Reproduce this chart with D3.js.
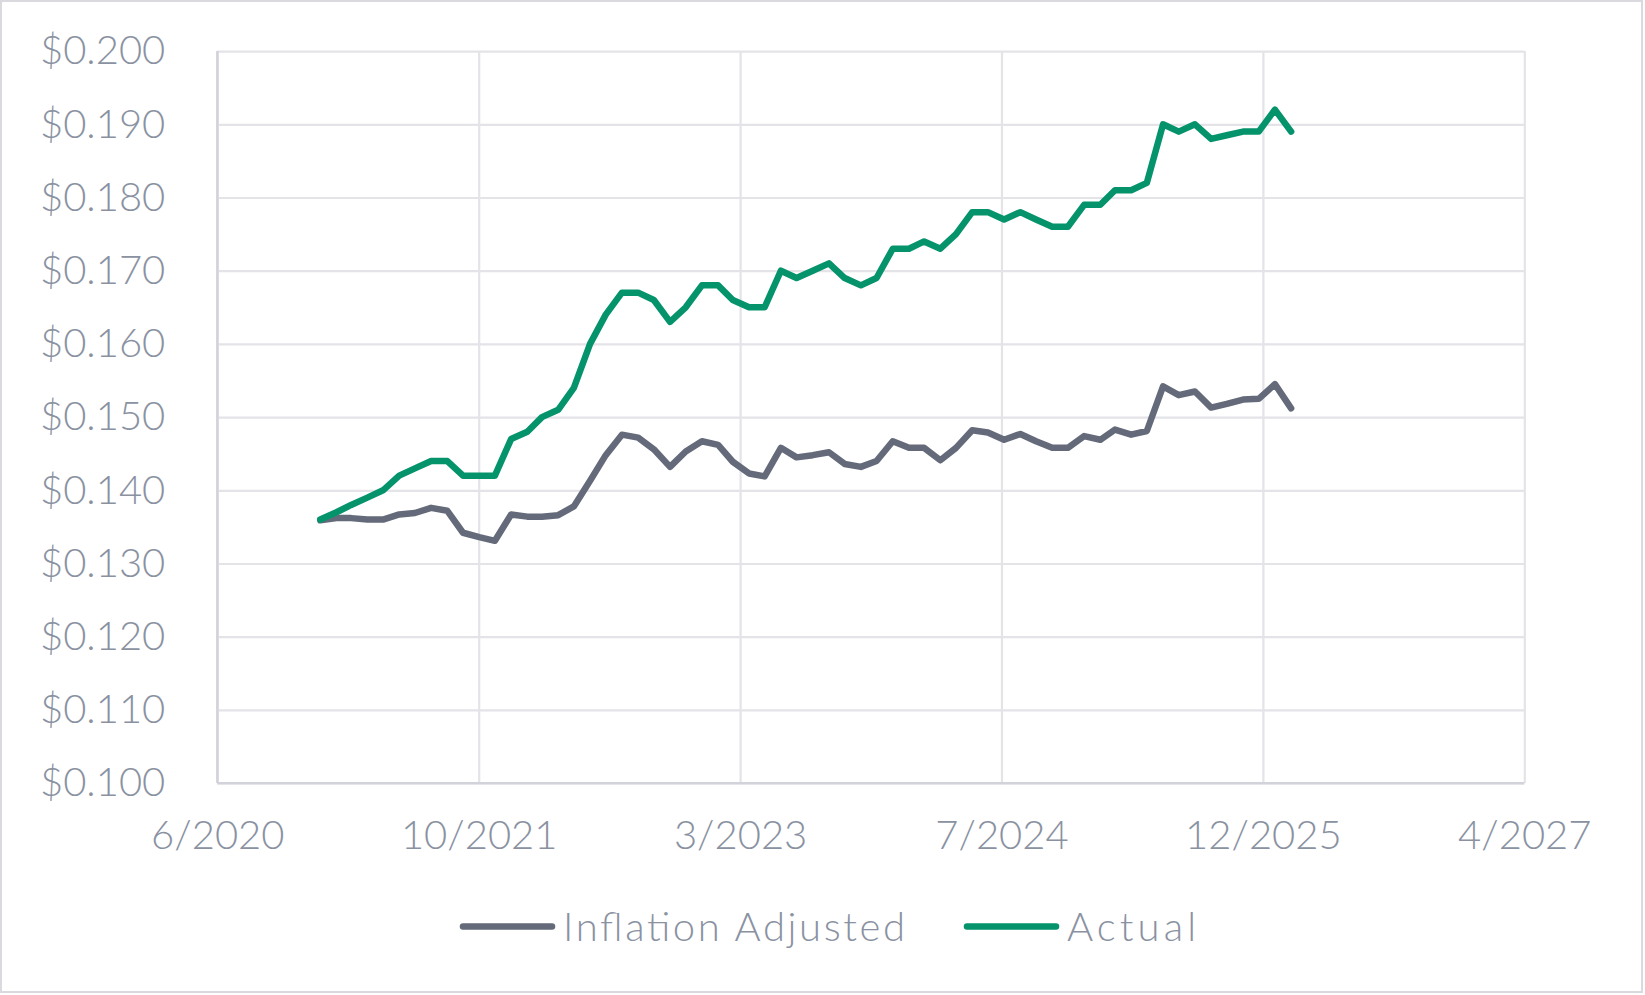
<!DOCTYPE html>
<html>
<head>
<meta charset="utf-8">
<script src="https://cdn.jsdelivr.net/npm/d3@7"></script>
<style>
  html, body { margin: 0; padding: 0; background: #ffffff; }
  svg { display: block; }
  text { font-family: Lato, "Open Sans", sans-serif; fill: #8a92a2; }
</style>
</head>
<body>
<script>
// ---------------- data ----------------
const months = [
  "2021-01","2021-02","2021-03","2021-04","2021-05","2021-06","2021-07","2021-08","2021-09","2021-10","2021-11","2021-12",
  "2022-01","2022-02","2022-03","2022-04","2022-05","2022-06","2022-07","2022-08","2022-09","2022-10","2022-11","2022-12",
  "2023-01","2023-02","2023-03","2023-04","2023-05","2023-06","2023-07","2023-08","2023-09","2023-10","2023-11","2023-12",
  "2024-01","2024-02","2024-03","2024-04","2024-05","2024-06","2024-07","2024-08","2024-09","2024-10","2024-11","2024-12",
  "2025-01","2025-02","2025-03","2025-04","2025-05","2025-06","2025-07","2025-08","2025-09","2025-10","2025-11","2025-12",
  "2026-01","2026-02"
];

const inflationAdjusted = [
  0.1359,0.1362,0.1362,0.1360,0.1360,0.1367,0.1369,0.1376,0.1372,0.1342,
  0.1336,0.1331,0.1367,0.1364,0.1364,0.1366,0.1378,0.1413,0.1448,0.1476,
  0.1472,0.1456,0.1432,0.1453,0.1467,0.1462,0.1439,0.1423,0.1419,0.1458,
  0.1445,0.1448,0.1452,0.1436,0.1432,0.1440,0.1467,0.1458,0.1458,0.1441,
  0.1458,0.1482,0.1479,0.1469,0.1477,0.1467,0.1458,0.1458,0.1474,0.1469,
  0.1483,0.1476,0.1481,0.1542,0.1530,0.1535,0.1513,0.1518,0.1524,0.1525,
  0.1545,0.1512
];

const actual = [
  0.136,0.137,0.138,0.139,0.140,0.142,0.143,0.144,0.144,0.142,
  0.142,0.142,0.147,0.148,0.150,0.151,0.154,0.160,0.164,0.167,
  0.167,0.166,0.163,0.165,0.168,0.168,0.166,0.165,0.165,0.170,
  0.169,0.170,0.171,0.169,0.168,0.169,0.173,0.173,0.174,0.173,
  0.175,0.178,0.178,0.177,0.178,0.177,0.176,0.176,0.179,0.179,
  0.181,0.181,0.182,0.190,0.189,0.190,0.188,0.1885,0.189,0.189,
  0.192,0.189
];

const seriesNames = ["Inflation Adjusted", "Actual"];
const xTickDates  = ["2020-06-18","2021-10-31","2023-03-15","2024-07-27","2025-12-09","2027-04-23"];
const xTickLabels = ["6/2020","10/2021","3/2023","7/2024","12/2025","4/2027"];
const yTicks      = [0.100,0.110,0.120,0.130,0.140,0.150,0.160,0.170,0.180,0.190,0.200];

// ---------------- layout ----------------
const W = 1645, H = 995;
const plot = { left: 217.3, right: 1524.3, top: 51.1, bottom: 783.1 };
const colors = { gray: "#646a7a", green: "#05936b", grid: "#e3e3e8", axis: "#d2d3da", frame: "#d9d9de", text: "#8a92a2" };
const FONT = "Lato, 'Open Sans', sans-serif";

const parse = d3.timeParse("%Y-%m-%d");
const parseM = d3.timeParse("%Y-%m");
const tickDates = xTickDates.map(parse);
const monthDates = months.map(parseM);

const x = d3.scaleTime()
  .domain([tickDates[0], tickDates[tickDates.length - 1]])
  .range([plot.left, plot.right]);
const y = d3.scaleLinear()
  .domain([0.100, 0.200])
  .range([plot.bottom, plot.top]);

const svg = d3.select("body").append("svg")
  .attr("width", W).attr("height", H);

svg.append("rect")
  .attr("x", 1).attr("y", 1).attr("width", W - 4).attr("height", H - 4)
  .attr("fill", "#fff").attr("stroke", colors.frame).attr("stroke-width", 2);

// horizontal gridlines + y labels
const yAxis = d3.axisLeft(y).tickValues(yTicks).tickFormat(d3.format("$.3f"))
  .tickSize(-(plot.right - plot.left)).tickPadding(52);
const gy = svg.append("g").attr("transform", `translate(${plot.left},0)`).call(yAxis);
gy.select(".domain").remove();
gy.selectAll(".tick line").attr("stroke", colors.grid).attr("stroke-width", 2.2);
gy.selectAll(".tick text").attr("font-size", 40).attr("fill", colors.text)
  .attr("font-weight", 300).attr("font-family", FONT);

// vertical gridlines + x labels
const xAxis = d3.axisBottom(x).tickValues(tickDates)
  .tickFormat((d, i) => xTickLabels[i])
  .tickSize(-(plot.bottom - plot.top)).tickPadding(38);
const gx = svg.append("g").attr("transform", `translate(0,${plot.bottom})`).call(xAxis);
gx.select(".domain").remove();
gx.selectAll(".tick line").attr("stroke", colors.grid).attr("stroke-width", 2.2);
gx.selectAll(".tick text").attr("font-size", 40).attr("fill", colors.text)
  .attr("font-weight", 300).attr("font-family", FONT);

// axis lines
svg.append("line").attr("x1", plot.left).attr("x2", plot.left)
  .attr("y1", plot.top).attr("y2", plot.bottom)
  .attr("stroke", colors.axis).attr("stroke-width", 2.4);
svg.append("line").attr("x1", plot.left).attr("x2", plot.right)
  .attr("y1", plot.bottom).attr("y2", plot.bottom)
  .attr("stroke", colors.axis).attr("stroke-width", 2.4);

// lines
const line = d3.line().x((d, i) => x(monthDates[i])).y(d => y(d));
const series = [
  { name: seriesNames[0], values: inflationAdjusted, color: colors.gray },
  { name: seriesNames[1], values: actual, color: colors.green }
];
series.forEach(s => {
  svg.append("path").datum(s.values)
    .attr("d", line)
    .attr("fill", "none")
    .attr("stroke", s.color)
    .attr("stroke-width", 6.5)
    .attr("stroke-linejoin", "round")
    .attr("stroke-linecap", "round");
});

// legend
const legendY = 926.6;
const legendItems = [
  { x0: 463, x1: 552, tx: 563, tw: 342 },
  { x0: 967, x1: 1056, tx: 1067, tw: 129 }
];
series.forEach((s, i) => {
  const L = legendItems[i];
  svg.append("line").attr("x1", L.x0).attr("x2", L.x1)
    .attr("y1", legendY).attr("y2", legendY)
    .attr("stroke", s.color).attr("stroke-width", 6.5).attr("stroke-linecap", "round");
  svg.append("text").attr("x", L.tx).attr("y", 940.7)
    .attr("font-size", 40).attr("font-weight", 300).attr("fill", colors.text)
    .attr("textLength", L.tw).attr("lengthAdjust", "spacing")
    .text(s.name);
});
</script>
</body>
</html>
